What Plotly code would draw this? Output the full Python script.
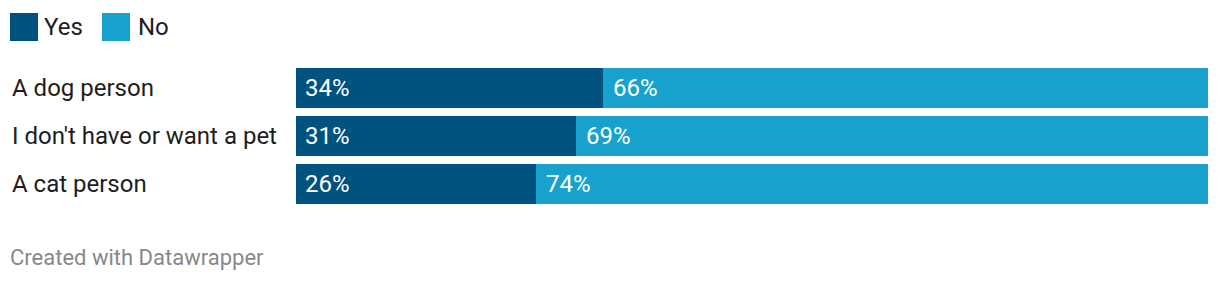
import plotly.graph_objects as go

W, H = 1220, 282

categories = ["A dog person", "I don't have or want a pet", "A cat person"]
yes_values = [33.7, 30.7, 26.3]
no_values = [66.3, 69.3, 73.7]
yes_labels = ["34%", "31%", "26%"]
no_labels = ["66%", "69%", "74%"]
series_names = ["Yes", "No"]
colors = ["#00527f", "#18a1cd"]

FONT = "Roboto"
FS = 24

fig = go.Figure()
fig.add_trace(go.Bar(y=categories, x=yes_values, orientation="h", name=series_names[0],
                     marker=dict(color=colors[0], line=dict(width=0)), showlegend=False,
                     hoverinfo="skip"))
fig.add_trace(go.Bar(y=categories, x=no_values, orientation="h", name=series_names[1],
                     marker=dict(color=colors[1], line=dict(width=0)), showlegend=False,
                     hoverinfo="skip"))

annotations = []
for i, cat in enumerate(categories):
    annotations.append(dict(x=10 / W, xref="paper", y=cat, yref="y", text=cat,
                            showarrow=False, xanchor="left", yanchor="middle",
                            font=dict(family=FONT, size=FS, color="#1d1d1d")))
    annotations.append(dict(x=0, xref="x", y=cat, yref="y", text=yes_labels[i],
                            showarrow=False, xanchor="left", yanchor="middle", xshift=7,
                            font=dict(family=FONT, size=FS, color="white")))
    annotations.append(dict(x=yes_values[i], xref="x", y=cat, yref="y", text=no_labels[i],
                            showarrow=False, xanchor="left", yanchor="middle", xshift=8,
                            font=dict(family=FONT, size=FS, color="white")))

# legend drawn manually
shapes = []
leg_x = [10, 102]
leg_text_off = [32, 34]
for j, name in enumerate(series_names):
    x0 = leg_x[j]
    shapes.append(dict(type="rect", xref="paper", yref="paper",
                       x0=x0 / W, x1=(x0 + 28) / W, y0=1 - 41 / H, y1=1 - 13 / H,
                       fillcolor=colors[j], line=dict(width=0)))
    annotations.append(dict(x=(x0 + leg_text_off[j]) / W, xref="paper", y=1 - 27 / H, yref="paper",
                            text=name, showarrow=False, xanchor="left", yanchor="middle",
                            font=dict(family=FONT, size=FS, color="#1d1d1d")))

annotations.append(dict(x=8 / W, xref="paper", y=1 - 257 / H, yref="paper",
                        text="Created with Datawrapper", showarrow=False,
                        xanchor="left", yanchor="middle",
                        font=dict(family=FONT, size=22, color="#888888")))

fig.update_layout(
    width=W, height=H,
    margin=dict(l=0, r=0, t=0, b=0),
    paper_bgcolor="white", plot_bgcolor="white",
    barmode="stack", bargap=8 / 48,
    xaxis=dict(domain=[296 / W, 1208 / W], range=[0, 100], visible=False, fixedrange=True),
    yaxis=dict(domain=[1 - 208 / H, 1 - 64 / H], range=[2.5, -0.5], visible=False,
               categoryorder="array", categoryarray=categories, fixedrange=True),
    annotations=annotations, shapes=shapes,
    showlegend=False,
)

fig.write_html("out.html", config={"displayModeBar": False})
